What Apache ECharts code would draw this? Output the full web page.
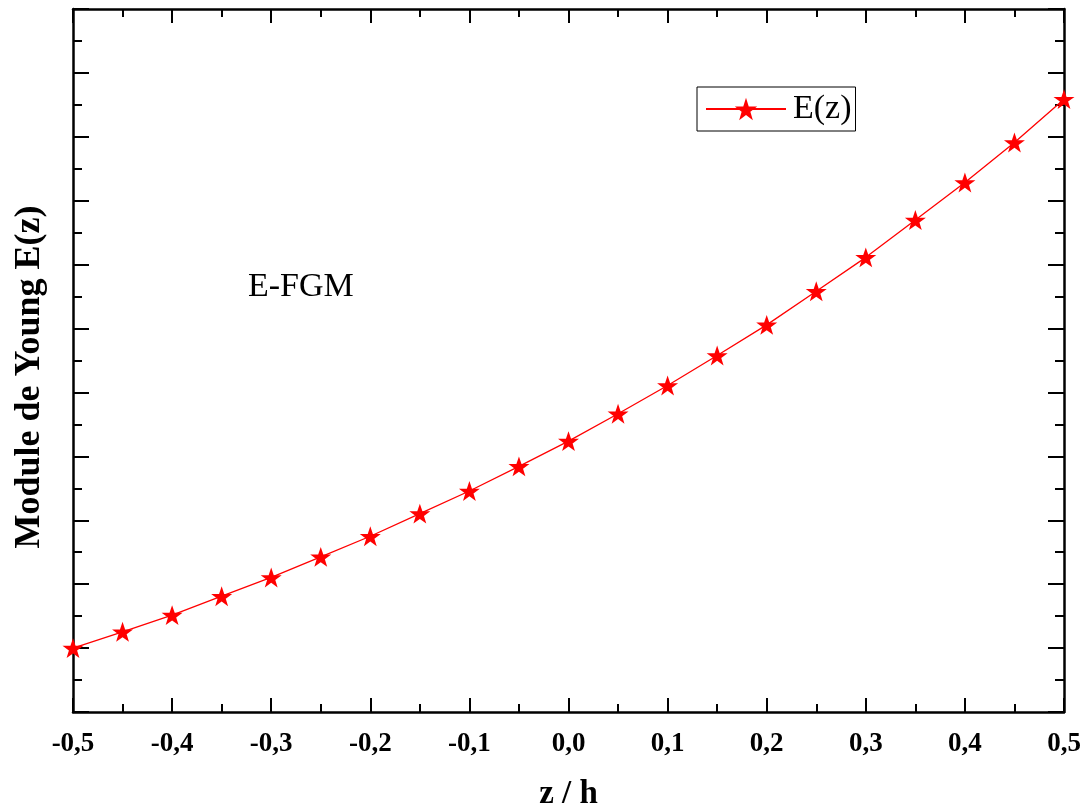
<!DOCTYPE html>
<html>
<head>
<meta charset="utf-8">
<script src="https://cdn.jsdelivr.net/npm/echarts@6/dist/echarts.min.js"></script>
<style>
html,body{margin:0;padding:0;background:#fff;}
#chart{width:1088px;height:812px;}
</style>
</head>
<body>
<div id="chart"></div>
<script>
// z/h positions
const zh = [-0.5,-0.45,-0.4,-0.35,-0.3,-0.25,-0.2,-0.15,-0.1,-0.05,0,0.05,0.1,0.15,0.2,0.25,0.3,0.35,0.4,0.45,0.5];
// Young's modulus E(z) (arbitrary units)
const Ez = [1.000,1.255,1.516,1.812,2.105,2.427,2.750,3.105,3.458,3.844,4.239,4.667,5.109,5.578,6.058,6.583,7.114,7.698,8.286,8.911,9.589];
const seriesName = 'E(z)';
const annotation = 'E-FGM';
const xTitle = 'z / h';
const yTitle = 'Module de Young E(z)';

const star = 'path://M50,0 L61.8,35.1 L98.1,35.1 L68.8,56.7 L79.4,91 L50,70 L20.6,91 L31.2,56.7 L1.9,35.1 L38.2,35.1 Z';
const serif = '"Liberation Serif","Times New Roman",serif';

const chart = echarts.init(document.getElementById('chart'));
const fmtX = v => (Math.abs(v) < 1e-9 ? 0 : v).toFixed(1).replace('.', ',');

const axLine = {show:true, onZero:false, lineStyle:{color:'#000', width:2.5}};
const xBase = {
  type:'value', min:-0.5, max:0.5, interval:0.1,
  axisLine: axLine,
  axisTick:{show:true, inside:true, length:14, lineStyle:{color:'#000', width:2}},
  minorTick:{show:true, splitNumber:2, length:8, lineStyle:{color:'#000', width:2}},
  splitLine:{show:false}
};
const yBase = {
  type:'value', min:0, max:11, interval:1,
  axisLine: axLine,
  axisTick:{show:true, inside:true, length:16, lineStyle:{color:'#000', width:2}},
  minorTick:{show:true, splitNumber:2, length:9, lineStyle:{color:'#000', width:2}},
  splitLine:{show:false},
  axisLabel:{show:false}
};

chart.setOption({
  animation:false,
  backgroundColor:'#fff',
  grid:{left:73, right:24, top:9, bottom:100, containLabel:false, outerBoundsMode:'none'},
  xAxis:[
    Object.assign({}, xBase, {
      position:'bottom',
      axisLabel:{show:true, formatter:fmtX, margin:19, fontFamily:serif, fontWeight:'bold', fontSize:27, color:'#000', showMinLabel:true, showMaxLabel:true},
      name:xTitle, nameLocation:'middle', nameGap:66,
      nameTextStyle:{fontFamily:serif, fontWeight:'bold', fontSize:33, color:'#000'}
    }),
    Object.assign({}, xBase, {position:'top', axisLabel:{show:false}})
  ],
  yAxis:[
    Object.assign({}, yBase, {position:'left'}),
    Object.assign({}, yBase, {position:'right'})
  ],
  legend:{
    show:true, left:697, top:87,
    orient:'horizontal',
    padding:[5,4,5,8],
    borderColor:'#000', borderWidth:1,
    itemWidth:80, itemHeight:28, itemGap:6,
    textStyle:{fontFamily:serif, fontSize:34, color:'#000', padding:[0,0,0,2]},
    data:[seriesName]
  },
  graphic:[{
    type:'text', left:248, top:270,
    style:{text:annotation, font:'34px ' + serif, fill:'#000'}
  },{
    type:'text', x:30, y:377, rotation:Math.PI/2,
    style:{text:yTitle, font:'bold 36px ' + serif, fill:'#000', align:'center', verticalAlign:'middle'}
  }],
  series:[{
    name:seriesName, type:'line',
    data: zh.map((z,i)=>[z, Ez[i]]),
    symbol:star, symbolSize:21, symbolKeepAspect:true,
    showAllSymbol:true,
    clip:false,
    lineStyle:{color:'#ff0000', width:1.3},
    itemStyle:{color:'#ff0000'}
  }]
});
</script>
</body>
</html>
